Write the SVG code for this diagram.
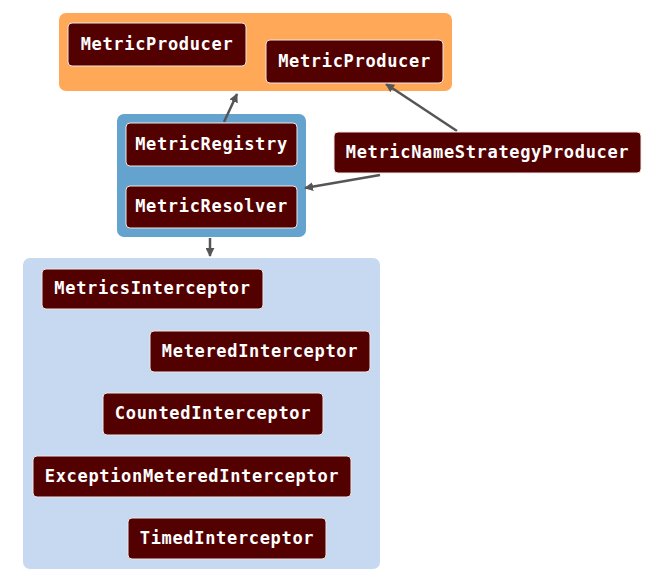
<svg xmlns="http://www.w3.org/2000/svg" width="653" height="583" viewBox="0 0 653 583">
<defs>
<style>
.node rect{fill:#520000;stroke:#f2e6e6;stroke-width:1}
.node text{fill:#ffffff;font-family:"DejaVu Sans Mono","Liberation Mono",monospace;font-size:17px;font-weight:bold;letter-spacing:0.67px;text-anchor:middle}
.conn{stroke:#555555;stroke-width:2.5;fill:none;marker-end:url(#ah)}
</style>
<marker id="ah" viewBox="0 0 10 10" refX="9" refY="5" markerWidth="3.6" markerHeight="3.6" orient="auto" markerUnits="strokeWidth">
<path d="M0,0 L10,5 L0,10 z" fill="#555555"/>
</marker>
</defs>
<rect id="producers" x="59" y="13" width="393" height="78" rx="7" fill="#FFA858"/>
<rect id="registry" x="117" y="114" width="189" height="123" rx="7" fill="#64A3CD"/>
<rect id="interceptors" x="23" y="258" width="357" height="311" rx="7" fill="#C6D9F0"/>
<g id="connectors">
<line class="conn" x1="224" y1="122" x2="237" y2="94"/>
<line class="conn" x1="457" y1="131" x2="386" y2="84"/>
<line class="conn" x1="380" y1="175" x2="305" y2="188"/>
<line class="conn" x1="210" y1="238" x2="210" y2="256"/>
</g>
<g id="n-producer1" class="node"><rect x="68" y="23" width="178" height="43" rx="4"/><text x="157" y="49.5">MetricProducer</text></g>
<g id="n-producer2" class="node"><rect x="266" y="40" width="177" height="43" rx="4"/><text x="354.5" y="66.5">MetricProducer</text></g>
<g id="n-registry" class="node"><rect x="126" y="123" width="171" height="43" rx="4"/><text x="211.5" y="149.5">MetricRegistry</text></g>
<g id="n-resolver" class="node"><rect x="126" y="186" width="171" height="42" rx="4"/><text x="211.5" y="212">MetricResolver</text></g>
<g id="n-namestrategy" class="node"><rect x="334" y="132" width="307" height="41" rx="4"/><text x="487.5" y="157.5">MetricNameStrategyProducer</text></g>
<g id="n-metrics" class="node"><rect x="42" y="269" width="221" height="40" rx="4"/><text x="152.5" y="294">MetricsInterceptor</text></g>
<g id="n-metered" class="node"><rect x="150" y="331" width="220" height="41" rx="4"/><text x="260" y="356.5">MeteredInterceptor</text></g>
<g id="n-counted" class="node"><rect x="103" y="393" width="220" height="42" rx="4"/><text x="213" y="419">CountedInterceptor</text></g>
<g id="n-exception" class="node"><rect x="33" y="456" width="318" height="41" rx="4"/><text x="192" y="481.5">ExceptionMeteredInterceptor</text></g>
<g id="n-timed" class="node"><rect x="128" y="518" width="198" height="41" rx="4"/><text x="227" y="543.5">TimedInterceptor</text></g>
</svg>
